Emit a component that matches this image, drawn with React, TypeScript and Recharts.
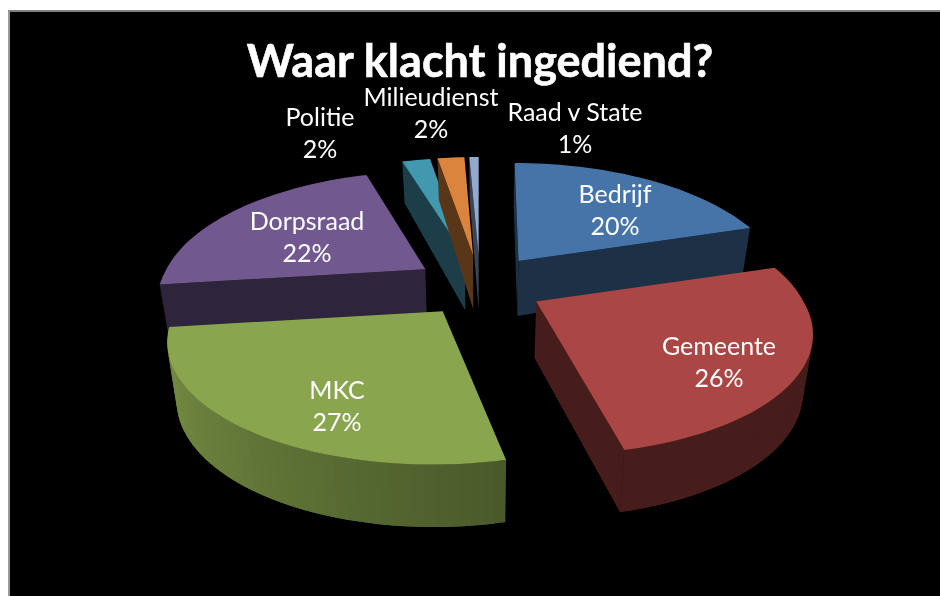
import React from 'react';
import { PieChart, Pie } from 'recharts';

const TITLE = 'Waar klacht ingediend?';
const CATEGORIES = ['Bedrijf', 'Gemeente', 'MKC', 'Dorpsraad', 'Politie', 'Milieudienst', 'Raad v State'];
const VALUES = [20.2, 26.3, 26.5, 22.2, 2.1, 2.0, 0.7];
const COLORS = ['#4674a9', '#aa4643', '#89a54e', '#71588f', '#4198af', '#db843d', '#93a9cf'];
const FRONT = ['Gemeente', 'MKC'];
const rows = CATEGORIES.map((name, i) => ({ name, value: VALUES[i] }));

// layout of the label centres relative to the pie centre
const LABEL_OFFSET: number[][] = [
  [135, -76], [239, 76], [-143, 120], [-173, -49], [-160, -153], [-49, -173], [95, -158],
];

const CX = 480, CY = 286, R = 274;
const PERSP = 0.21, SKEW_FRONT = 0.27, SKEW_BACK = 0.1;
const RAD = Math.PI / 180;

function darken(hex: string, s: number) {
  const n = parseInt(hex.slice(1), 16);
  const c = [(n >> 16) & 255, (n >> 8) & 255, n & 255].map((v) => Math.round(v * s));
  return `rgb(${c[0]},${c[1]},${c[2]})`;
}

type P = [number, number];

function depth(y: number) {
  return y < 260 ? 42 + (y - 163) * 0.135 : 55 + (y - 260) * 0.037;
}
const lower = (p: P): P => [p[0] + (CX - p[0]) * 0.03, p[1] + depth(p[1])];
const pathOf = (pts: P[]) => 'M' + pts.map((p) => `${p[0].toFixed(1)},${p[1].toFixed(1)}`).join('L') + 'Z';
const faces = (a: P, b: P) => {
  const c = lower(a);
  return (b[0] - a[0]) * (c[1] - a[1]) - (b[1] - a[1]) * (c[0] - a[0]) < 0;
};

function rimShade(t: number) {
  const d = ((t % 360) + 360) % 360;
  return d < 167.3 ? 0.42 : Math.min(0.9, 0.54 + (d - 167) * 0.0037);
}

function Slice3D(props: any, group: 'front' | 'back') {
  const name = props.name ?? props.payload?.name;
  const isFront = FRONT.includes(name);
  if (isFront !== (group === 'front')) return <g />;
  const { cx, cy, outerRadius: r, startAngle, endAngle } = props;
  const t0 = 90 - startAngle, t1 = 90 - endAngle;
  const mid = ((t0 + t1) / 2) * RAD;
  const ax = cx + r * 0.237 * Math.sin(mid);
  const ay = cy - r * 0.113 * Math.cos(mid);
  const xScale = isFront ? 0.975 : 0.945;
  const yScale = isFront ? 1.02 : 1;
  const at = (t: number): P => {
    const s = Math.sin(t * RAD), c = Math.cos(t * RAD);
    const w = 1 + PERSP * c;
    const skew = c < 0 ? SKEW_FRONT : SKEW_BACK;
    return [ax + (xScale * r * s) / w - skew * (ax - cx) * c, ay - (yScale * r * 0.433 * c) / w];
  };
  const base = COLORS[CATEGORIES.indexOf(name)];
  const apex: P = [ax, ay];
  const ts: number[] = [];
  for (let t = t0; t < t1; t += 2) ts.push(t);
  ts.push(t1);
  const rim = ts.map(at);
  const wall = darken(base, 0.41);
  const quad = (a: P, b: P) => pathOf([a, b, lower(b), lower(a)]);
  const first = rim[0], last = rim[rim.length - 1];
  return (
    <g>
      {faces(apex, first) && <path d={quad(apex, first)} fill={wall} />}
      {faces(last, apex) && <path d={quad(last, apex)} fill={wall} />}
      {rim.slice(0, -1).map((p, i) => {
        const next = rim[Math.min(i + 2, rim.length - 1)];
        return faces(p, rim[i + 1]) ? <path key={i} d={quad(p, next)} fill={darken(base, rimShade(ts[i]))} /> : null;
      })}
      <path d={pathOf([apex, ...rim])} fill={base} />
    </g>
  );
}

function SliceLabel(props: any) {
  const { index, cx, cy } = props;
  const [dx, dy] = LABEL_OFFSET[index];
  const x = cx + dx, y = cy + dy;
  return (
    <text x={x} y={y} textAnchor="middle" fill="#ffffff" fontFamily="Lato, sans-serif" fontSize={25}>
      <tspan x={x} dy={-7}>{CATEGORIES[index]}</tspan>
      <tspan x={x} dy={31.5}>{`${Math.round(VALUES[index])}%`}</tspan>
    </text>
  );
}

export default function App() {
  return (
    <div style={{ position: 'absolute', left: 0, top: 0, width: 940, height: 596, background: '#fff', overflow: 'hidden' }}>
      <div style={{ position: 'absolute', left: 8, top: 10, width: 930, height: 584, background: '#000', borderTop: '2px solid #808080', borderLeft: '2px solid #9a9a9a' }} />
      <div style={{ position: 'absolute', left: 0, top: 0, filter: 'blur(0.5px)' }}>
        <PieChart width={940} height={596} margin={{ top: 0, right: 0, bottom: 0, left: 0 }}>
          <text x={480} y={77} textAnchor="middle" fill="#ffffff" stroke="#ffffff" strokeWidth={0.6} fontFamily="Lato, sans-serif" fontWeight={700} fontSize={45}>
            {TITLE}
          </text>
          <Pie
            data={rows} dataKey="value" nameKey="name" cx={CX} cy={CY} outerRadius={R}
            startAngle={90} endAngle={-270} stroke="none" isAnimationActive={false}
            shape={(p: any) => Slice3D(p, 'back')}
          />
          <Pie
            data={rows} dataKey="value" nameKey="name" cx={CX} cy={CY} outerRadius={R}
            startAngle={90} endAngle={-270} stroke="none" isAnimationActive={false}
            labelLine={false} label={SliceLabel}
            shape={(p: any) => Slice3D(p, 'front')}
          />
        </PieChart>
      </div>
    </div>
  );
}
